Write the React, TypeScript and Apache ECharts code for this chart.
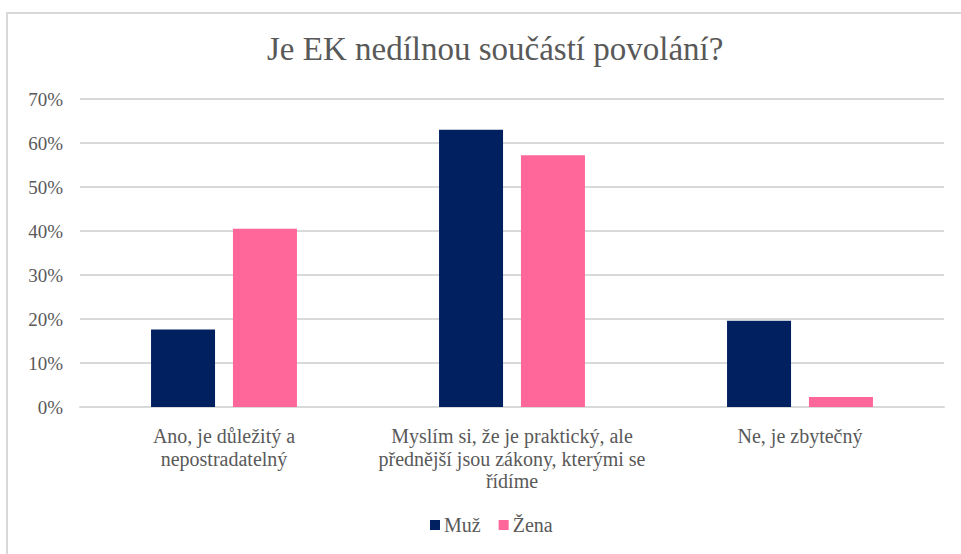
import React, { useEffect, useRef } from "react";
import * as echarts from "echarts";

const categories = [
  "Ano, je důležitý a\nnepostradatelný",
  "Myslím si, že je praktický, ale\npřednější jsou zákony, kterými se\nřídíme",
  "Ne, je zbytečný",
];
const seriesNames = ["Muž", "Žena"];
const muzValues = [0.176, 0.63, 0.196];
const zenaValues = [0.405, 0.572, 0.023];
const yTicks = { min: 0, max: 0.7, interval: 0.1 };
const titleText = "Je EK nedílnou součástí povolání?";

const FONT = "'Liberation Serif', 'Times New Roman', serif";
const GREY = "#595959";

export default function App() {
  const ref = useRef<HTMLDivElement>(null);
  useEffect(() => {
    if (!ref.current) return;
    const chart = echarts.init(ref.current, undefined, { renderer: "svg" });
    chart.setOption({
      animation: false,
      backgroundColor: "#ffffff",
      textStyle: { fontFamily: FONT },
      title: {
        text: titleText,
        left: 262,
        top: 27,
        textStyle: { fontFamily: FONT, fontSize: 33, fontWeight: "normal", color: GREY },
      },
      graphic: [
        {
          type: "rect",
          shape: { x: 7, y: 13, width: 1000, height: 600 },
          style: { fill: "none", stroke: "#d9d9d9", lineWidth: 2 },
          silent: true,
        },
      ],
      legend: {
        data: seriesNames,
        bottom: 14,
        left: 425,
        icon: "rect",
        itemWidth: 10,
        itemHeight: 10,
        itemGap: 18,
        itemStyle: { borderWidth: 0 },
        textStyle: { fontFamily: FONT, fontSize: 20, color: GREY, padding: [0, 0, 0, -1] },
      },
      grid: { left: 80, right: 17, top: 99, bottom: 147, containLabel: false },
      xAxis: {
        type: "category",
        data: categories,
        axisLine: { lineStyle: { color: "#d9d9d9", width: 2 } },
        axisTick: { show: false },
        axisLabel: {
          interval: 0,
          margin: 18,
          fontFamily: FONT,
          fontSize: 20,
          lineHeight: 22.5,
          color: GREY,
          align: "center",
        },
      },
      yAxis: {
        type: "value",
        min: yTicks.min,
        max: yTicks.max,
        interval: yTicks.interval,
        axisLine: { show: false },
        axisTick: { show: false },
        splitLine: { lineStyle: { color: "#d9d9d9", width: 2 } },
        axisLabel: {
          margin: 17,
          fontFamily: FONT,
          fontSize: 19,
          color: GREY,
          formatter: (v: number) => Math.round(v * 100) + "%",
        },
      },
      series: [
        {
          name: seriesNames[0],
          type: "bar",
          data: muzValues,
          barWidth: 64,
          barGap: "28%",
          itemStyle: { color: "#002060" },
        },
        {
          name: seriesNames[1],
          type: "bar",
          data: zenaValues,
          barWidth: 64,
          itemStyle: { color: "#ff6699" },
        },
      ],
    });
    return () => chart.dispose();
  }, []);
  return (
    <div
      ref={ref}
      style={{ position: "fixed", left: 0, top: 0, width: 961, height: 554, background: "#fff" }}
    />
  );
}
